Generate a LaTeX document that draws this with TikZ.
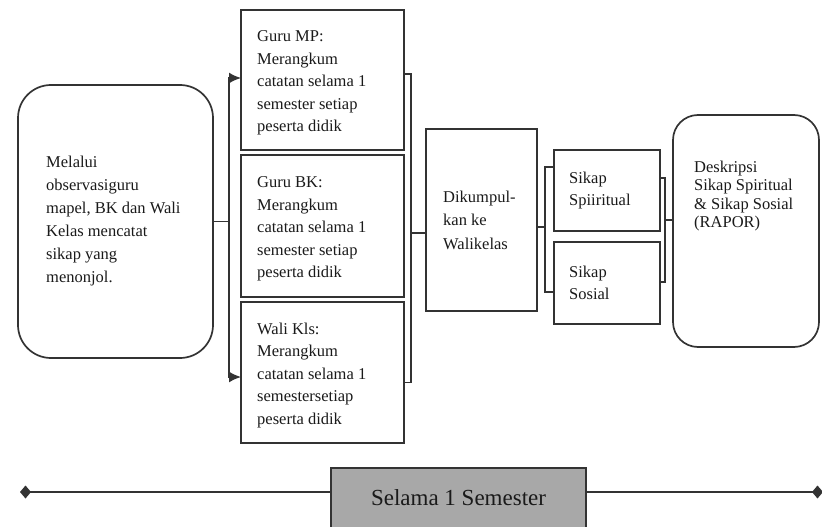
\documentclass[tikz,border=0pt]{standalone}
\usepackage{fontspec}
\setmainfont{Liberation Serif}
\usetikzlibrary{arrows.meta,calc}
\definecolor{ln}{HTML}{333333}
\definecolor{tx}{HTML}{1A1A1A}
\definecolor{semfill}{HTML}{A8A8A8}
\begin{document}
\begin{tikzpicture}[x=1pt,y=-1pt,
  box/.style={draw=ln,line width=1.7pt,inner sep=0pt,outer sep=0pt,anchor=north west,fill=white},
  rbox/.style={box,rounded corners=#1},
  txt/.style={text=tx,align=left,inner sep=0pt,anchor=west,font=\fontsize{16.5}{22.5}\selectfont},
  conn/.style={draw=ln,line width=1.6pt},
  arr/.style={conn,-{Latex[length=12pt,width=11pt]}},
  diam/.style={draw=ln,line width=2.2pt,-{Diamond[length=11pt,width=13pt]}}
]
\useasboundingbox (0,0) rectangle (822,527);
\clip (0,0) rectangle (822,527);

% boxes
\node[rbox=33pt,minimum width=195pt,minimum height=273pt] (lbox) at (18,85) {};
\node[box,minimum width=163pt,minimum height=140pt] (mp) at (241,10) {};
\node[box,minimum width=163pt,minimum height=142pt] (bk) at (241,155) {};
\node[box,minimum width=163pt,minimum height=141pt] (wk) at (241,302) {};
\node[box,minimum width=111pt,minimum height=182pt] (dk) at (426,129) {};
\node[box,minimum width=106pt,minimum height=81pt] (sp) at (554,150) {};
\node[box,minimum width=106pt,minimum height=82pt] (so) at (554,242) {};
\node[rbox=25pt,minimum width=146pt,minimum height=232pt] (rb) at (673,115) {};
\node[box,fill=semfill,minimum width=255pt,minimum height=60pt,
      font=\fontsize{23}{26}\selectfont,text=tx] (sem) at (331,468) {Selama 1 Semester};

% texts
\node[txt,font=\fontsize{16.5}{23}\selectfont] (tl) at ([xshift=28pt,yshift=0pt]lbox.west) {Melalui\\observasiguru\\mapel, BK dan Wali\\Kelas mencatat\\sikap yang\\menonjol.};
\node[txt] (tmp) at ([xshift=16pt,yshift=-3pt]mp.west) {Guru MP:\\Merangkum\\catatan selama 1\\semester setiap\\peserta didik};
\node[txt] (tbk) at ([xshift=16pt,yshift=-3pt]bk.west) {Guru BK:\\Merangkum\\catatan selama 1\\semester setiap\\peserta didik};
\node[txt] (twk) at ([xshift=16pt,yshift=-3pt]wk.west) {Wali Kls:\\Merangkum\\catatan selama 1\\semestersetiap\\peserta didik};
\node[txt,font=\fontsize{16.5}{23.5}\selectfont] (tdk) at ([xshift=17pt]dk.west) {Dikumpul-\\kan ke\\Walikelas};
\node[txt,font=\fontsize{16.5}{21.5}\selectfont] (tsp) at ([xshift=15pt]sp.west) {Sikap\\Spiiritual};
\node[txt,font=\fontsize{16.5}{21.5}\selectfont] (tso) at ([xshift=15pt]so.west) {Sikap\\Sosial};
\node[txt,font=\fontsize{16.5}{18.5}\selectfont] (trb) at ([xshift=21pt,yshift=35pt]rb.west) {Deskripsi\\Sikap Spiritual\\\& Sikap Sosial\\(RAPOR)};

% connectors
\coordinate (lv) at (229,221.5);
\draw[conn] (lbox.east) -- (lv);
\draw[arr] (lv) |- ([yshift=2pt]mp.west);
\draw[arr] (lv) |- ([yshift=-4.5pt]wk.west);

\coordinate (rv) at (411,233);
\draw[conn] ([yshift=6pt]mp.east) -| (rv);
\draw[conn] ([yshift=-10pt]wk.east) -| (rv);
\draw[conn] (rv) -- (rv -| dk.west);

\coordinate (sv) at (545,227);
\draw[conn] (dk.east |- sv) -- (sv);
\draw[conn] ([yshift=23.5pt]sp.west) -| (sv);
\draw[conn] ([yshift=-9pt]so.west) -| (sv);

\coordinate (tv) at (665,220);
\draw[conn] ([yshift=12.5pt]sp.east) -| (tv);
\draw[conn] ([yshift=1pt]so.east) -| (tv);
\draw[conn] (tv) -- (tv -| rb.west);

% time line
\coordinate (dl) at (20,492);
\coordinate (dr) at (823,492);
\draw[diam] (sem.west |- dl) -- (dl);
\draw[diam] (sem.east |- dr) -- (dr);
\end{tikzpicture}
\end{document}
